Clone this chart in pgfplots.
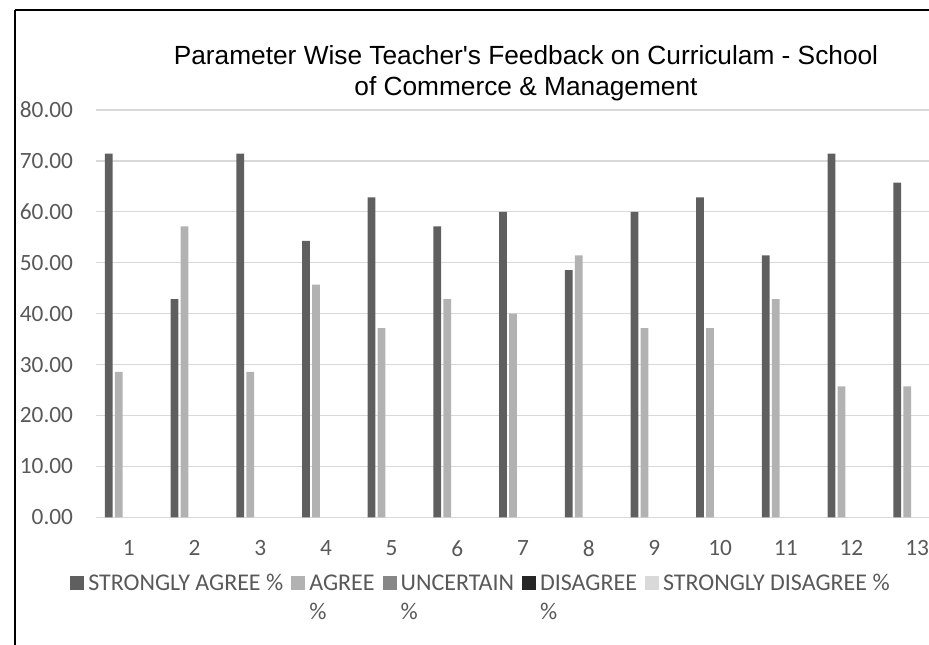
\documentclass[border=0pt]{standalone}
\usepackage{fontspec}
\setmainfont{Carlito}
\newfontfamily\titlefont{Liberation Sans}
\usepackage{pgfplots}
\usepackage{pgfplotstable}
\pgfplotsset{compat=1.18}
\definecolor{sa}{HTML}{5F5F5F}
\definecolor{ag}{HTML}{B2B2B2}
\definecolor{un}{HTML}{878787}
\definecolor{di}{HTML}{262626}
\definecolor{sd}{HTML}{D9D9D9}
\definecolor{gridc}{HTML}{D9D9D9}
\definecolor{lab}{HTML}{595959}

% Uncertain, Disagree and Strongly Disagree are 0 for every parameter
\pgfplotstableread{
x  sa     ag     un  di  sd
1  71.43  28.57  0   0   0
2  42.86  57.14  0   0   0
3  71.43  28.57  0   0   0
4  54.29  45.71  0   0   0
5  62.86  37.14  0   0   0
6  57.14  42.86  0   0   0
7  60.00  40.00  0   0   0
8  48.57  51.43  0   0   0
9  60.00  37.14  0   0   0
10 62.86  37.14  0   0   0
11 51.43  42.86  0   0   0
12 71.43  25.71  0   0   0
13 65.71  25.71  0   0   0
}\datatable

\newcommand{\pct}{\rlap{\smash{\raisebox{-21.5pt}{\%}}}}

\begin{document}
\begin{tikzpicture}
\path[use as bounding box] (-72pt,-95.03pt) rectangle (624.75pt,387.98pt);
\clip (-72pt,-95.03pt) rectangle (624.75pt,387.98pt);
\begin{axis}[
  at={(0,0)}, anchor=south west,
  scale only axis, width=640.5pt, height=305.5pt,
  xmin=0.5, xmax=13.5, ymin=0, ymax=80,
  ybar, bar width=5.8pt,
  xtick={1,...,13}, ytick={0,10,...,80},
  major tick length=0pt,
  axis line style={draw=none},
  ymajorgrids, major grid style={draw=gridc, line width=1pt},
  /pgf/number format/assume math mode=true,
  ticklabel style={font=\fontsize{17.5}{21}\selectfont, text=lab, inner sep=0pt},
  yticklabel style={anchor=east, xshift=-17pt, /pgf/number format/.cd, fixed, zerofill, precision=2},
  xticklabel style={anchor=north, yshift=-17pt},
  legend columns=5,
  legend cell align=left,
  legend style={draw=none, fill=none, at={(-0.03044,-0.1388)}, anchor=north west,
    inner sep=0pt, font=\fontsize{18}{21.6}\selectfont, text=lab,
    column sep=3pt, /tikz/every even column/.append style={column sep=6pt},
    cells={anchor=base west}, nodes={inner sep=0pt}},
  every axis plot post/.append style={draw=none,
    legend image code/.code={\fill[##1,draw=none] (0pt,0pt) rectangle (10.5pt,10.5pt);}},
]
\addplot[fill=sa, bar shift=-15pt] table[x=x,y=sa] {\datatable};
\addplot[fill=ag, bar shift=-7.5pt] table[x=x,y=ag] {\datatable};
\addlegendimage{fill=un}
\addlegendimage{fill=di}
\addlegendimage{fill=sd}
\legend{STRONGLY AGREE \%, \pct AGREE, \pct UNCERTAIN, \pct DISAGREE, STRONGLY DISAGREE \%}
\end{axis}
\node[anchor=base, font=\titlefont\fontsize{19.7}{23.5}\selectfont] at (322.5pt,339.75pt) {Parameter Wise Teacher\textquotesingle s Feedback on Curriculam - School};
\node[anchor=base, font=\titlefont\fontsize{19.7}{23.5}\selectfont] at (322.5pt,316.7pt) {of Commerce \& Management};
\draw[line width=1.5pt] (-60.75pt,380.5pt) -- (-60.75pt,-150pt);
\draw[line width=1.5pt] (-60.75pt,380.5pt) -- (700pt,380.5pt);
\end{tikzpicture}
\end{document}
